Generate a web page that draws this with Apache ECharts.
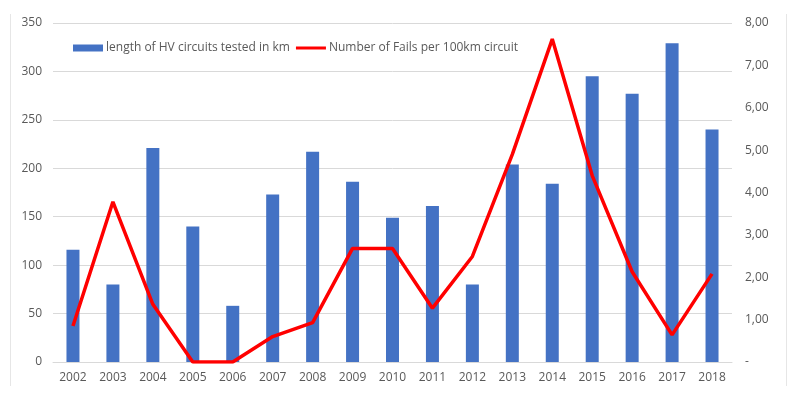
<!DOCTYPE html>
<html>
<head>
<meta charset="utf-8">
<script src="https://cdn.jsdelivr.net/npm/echarts@6/dist/echarts.min.js"></script>
<style>
html,body{margin:0;padding:0;background:#fff;}
#chart{width:800px;height:398px;}
</style>
</head>
<body>
<div id="chart"></div>
<script>
var years = ['2002','2003','2004','2005','2006','2007','2008','2009','2010','2011','2012','2013','2014','2015','2016','2017','2018'];
var kmTested = [116, 80, 221, 140, 58, 173, 217, 186, 149, 161, 80, 204, 184, 295, 277, 329, 240];
var failsPer100km = [0.85, 3.78, 1.36, 0, 0, 0.6, 0.93, 2.68, 2.68, 1.27, 2.49, 4.9, 7.62, 4.4, 2.13, 0.64, 2.08];

var chart = echarts.init(document.getElementById('chart'));

var textColor = '#595959';
var gridColor = '#d9d9d9';

var options = {
	animation: false,
	textStyle: { fontFamily: 'Open Sans' },
	grid: { left: 53, right: 68, top: 23, bottom: 36, containLabel: false },
	legend: {
		left: 68,
		top: 37,
		itemWidth: 30,
		itemHeight: 7,
		itemGap: 6,
		textStyle: { color: textColor, fontSize: 12, padding: [0, 0, 0, -2] },
		data: [
			{ name: 'length of HV circuits tested in km', icon: 'rect' },
			{ name: 'Number of Fails per 100km circuit', icon: 'path://M0,2 L30,2 L30,5 L0,5 Z' }
		]
	},
	xAxis: {
		type: 'category',
		data: years,
		axisLine: { lineStyle: { color: gridColor } },
		axisTick: { show: false },
		axisLabel: { color: textColor, fontSize: 12, margin: 10 }
	},
	yAxis: [
		{
			type: 'value',
			min: 0, max: 350, interval: 50,
			axisLine: { show: false },
			axisTick: { show: false },
			splitLine: { lineStyle: { color: gridColor } },
			axisLabel: { color: textColor, fontSize: 12, margin: 11 }
		},
		{
			type: 'value',
			min: 0, max: 8, interval: 1,
			axisLine: { show: false },
			axisTick: { show: false },
			splitLine: { show: false },
			axisLabel: {
				color: textColor, fontSize: 12, margin: 13,
				formatter: function (v) { return v === 0 ? '-' : v.toFixed(2).replace('.', ','); }
			}
		}
	],
	graphic: [
		{ type: 'line', shape: { x1: 10.5, y1: 14, x2: 10.5, y2: 386 }, style: { stroke: '#e6e6e6', lineWidth: 1 } },
		{ type: 'line', shape: { x1: 786.5, y1: 14, x2: 786.5, y2: 386 }, style: { stroke: '#e6e6e6', lineWidth: 1 } }
	],
	series: [
		{
			name: 'length of HV circuits tested in km',
			type: 'bar',
			yAxisIndex: 0,
			barWidth: 13,
			itemStyle: { color: '#4472C4' },
			data: kmTested
		},
		{
			name: 'Number of Fails per 100km circuit',
			type: 'line',
			yAxisIndex: 1,
			showSymbol: false,
			symbol: 'none',
			lineStyle: { color: '#FF0000', width: 3.5 },
			itemStyle: { color: '#FF0000' },
			data: failsPer100km
		}
	]
};

chart.setOption(options);
</script>
</body>
</html>
